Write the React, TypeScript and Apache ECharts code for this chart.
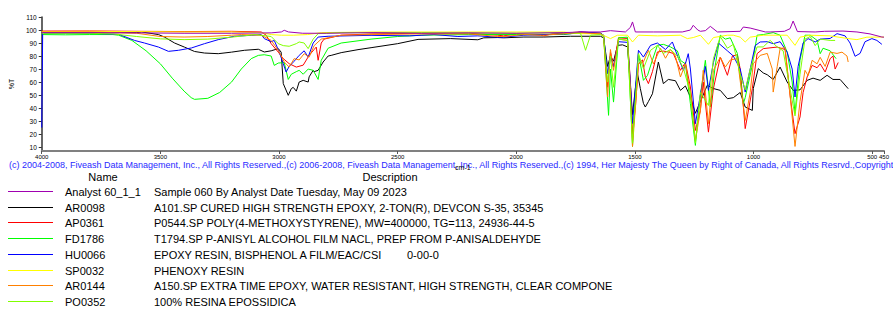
import React, { useEffect, useRef } from "react";
import * as echarts from "echarts";

// ---- axis ticks ----
const wavenumberTicks = [4000, 3500, 3000, 2500, 2000, 1500, 1000, 500, 450];
const transmittanceTicks = [7, 10, 20, 30, 40, 50, 60, 70, 80, 90, 100, 110];

// ---- legend info ----
const seriesNames = ["Analyst 60_1_1", "AR0098", "AP0361", "FD1786", "HU0066", "SP0032", "AR0144", "PO0352"];
const seriesDescriptions = [
  "Sample 060 By Analyst Date Tuesday, May 09 2023",
  "A101.SP CURED HIGH STRENGTH EPOXY, 2-TON(R), DEVCON S-35, 35345",
  "P0544.SP POLY(4-METHOXYSTYRENE), MW=400000, TG=113, 24936-44-5",
  "T1794.SP P-ANISYL ALCOHOL FILM NACL, PREP FROM P-ANISALDEHYDE",
  "EPOXY RESIN, BISPHENOL A FILM/EAC/CSI       0-00-0",
  "PHENOXY RESIN",
  "A150.SP EXTRA TIME EPOXY, WATER RESISTANT, HIGH STRENGTH, CLEAR COMPONE",
  "100% RESINA EPOSSIDICA",
];
const seriesColors = ["#a000b0", "#000000", "#ff0000", "#00ff00", "#0000ff", "#ffff00", "#ff8000", "#80ff00"];

const copyrightText =
  "(c) 2004-2008, Fiveash Data Management, Inc., All Rights Reserved.,(c) 2006-2008, Fiveash Data Management, Inc., All Rights Reserved.,(c) 1994, Her Majesty The Queen by Right of Canada, All Rights Resrvd.,Copyright";

// ---- spectra: [wavenumber cm-1, %T] ----
const analyst60: [number, number][] = [
  [4000, 98], [3800, 98], [3600, 97.8], [3400, 97.5], [3200, 97.5], [3033, 97.8], [2990, 98.5], [2978, 99.8],
  [2960, 98.5], [2900, 97.5], [2800, 97.5], [2600, 98], [2400, 97.5], [2200, 97.8], [2000, 97.5], [1800, 98],
  [1729, 98.5], [1645, 98.5], [1603, 99.5], [1540, 98.5], [1519, 102], [1510, 106.2], [1498, 98.5], [1422, 98.5],
  [1300, 98.5], [1266, 100], [1254, 103.6], [1235, 100], [1224, 99], [1203, 99.5], [1182, 102.8], [1152, 98.5],
  [1056, 99], [1043, 102.3], [1014, 101.5], [950, 98.5], [930, 98.5], [870, 99], [846, 101], [833, 106.9],
  [815, 98.8], [740, 98.5], [700, 99], [623, 99.2], [564, 98.5], [509, 97], [459, 94.6], [450, 94.5],
];

const ar0098: [number, number][] = [
  [4000, 98], [3800, 98.2], [3600, 98], [3579, 98.5], [3508, 96.5], [3483, 94.6], [3440, 90], [3399, 86.9],
  [3356, 83.5], [3314, 82.3], [3256, 81.8], [3200, 83], [3146, 84.4], [3087, 85.2], [3062, 83.1], [3033, 84],
  [3003, 85.7], [2991, 83], [2982, 58.8], [2961, 49.8], [2948, 55], [2940, 55.9], [2927, 53], [2915, 60],
  [2898, 61.3], [2877, 60], [2873, 64], [2856, 69], [2852, 68], [2835, 69], [2814, 75.4], [2793, 80],
  [2780, 80.5], [2738, 82.6], [2667, 84.9], [2612, 86.4], [2500, 89.5], [2414, 92.8], [2276, 93.4], [2162, 92.5],
  [2137, 94], [2078, 94.2], [2053, 94], [1968, 94.6], [1884, 94.6], [1771, 95.2], [1645, 95.2], [1632, 94],
  [1615, 72], [1603, 80], [1590, 76], [1573, 88.2], [1552, 88.6], [1531, 87], [1510, 35], [1498, 55],
  [1489, 66.4], [1477, 55], [1464, 43.6], [1456, 40.8], [1443, 45], [1426, 51], [1401, 75.4], [1380, 58.8],
  [1359, 62], [1329, 61], [1308, 53.6], [1287, 57], [1266, 48.5], [1245, 36], [1224, 45], [1195, 57.5],
  [1169, 55], [1140, 53.6], [1110, 47.2], [1085, 48], [1056, 52], [1035, 40.8], [1005, 38.2], [1001, 55],
  [980, 70.3], [959, 67], [942, 65.6], [917, 62], [888, 71.5], [858, 60], [833, 53.6], [804, 54],
  [774, 61.3], [749, 63], [719, 61.3], [690, 65.2], [665, 62], [635, 62], [601, 54.9],
];

const ap0361: [number, number][] = [
  [4000, 99.2], [3800, 99.3], [3600, 99], [3400, 98.8], [3200, 99], [3075, 98.5], [3054, 96], [3033, 89.5],
  [3003, 83], [2982, 78], [2957, 74.1], [2927, 71.5], [2898, 73], [2873, 80.5], [2852, 85], [2843, 86.9],
  [2835, 76.7], [2822, 90], [2810, 93], [2738, 96], [2612, 97], [2400, 97.5], [2200, 97.5], [2078, 96],
  [2053, 95.5], [2000, 97], [1897, 96], [1884, 95.5], [1850, 97], [1729, 98.5], [1645, 97.5], [1632, 96],
  [1615, 56], [1603, 83], [1590, 71.5], [1569, 94], [1531, 93.5], [1519, 60], [1510, 20.3], [1498, 40],
  [1485, 74], [1468, 77], [1456, 63.9], [1443, 58.8], [1426, 68], [1405, 83.1], [1380, 83.8], [1359, 83.1],
  [1338, 82], [1308, 69], [1287, 75], [1266, 56.2], [1245, 22.8], [1224, 38], [1212, 60], [1190, 21.5],
  [1169, 55], [1140, 79.2], [1110, 65.2], [1089, 80], [1068, 81], [1056, 70], [1035, 24.2], [1005, 55],
  [985, 81.8], [959, 85.7], [900, 86.9], [867, 85], [846, 50], [825, 20.3], [804, 33.1], [791, 52],
  [774, 63.9], [753, 72.8], [732, 71], [719, 74], [698, 67.7], [677, 78], [665, 80], [656, 70], [643, 75],
];

const fd1786: [number, number][] = [
  [4000, 96.5], [3900, 96.3], [3800, 96.5], [3700, 96.5], [3676, 96], [3620, 92], [3560, 84], [3500, 74],
  [3450, 63], [3400, 53], [3370, 48], [3356, 46.7], [3300, 47.5], [3250, 52], [3200, 60], [3159, 70],
  [3117, 78], [3087, 80.5], [3062, 81], [3033, 80], [3020, 72.8], [3003, 74.6], [2978, 75], [2961, 62],
  [2948, 66], [2927, 68], [2915, 69], [2898, 66], [2877, 70], [2856, 69], [2835, 62], [2822, 76.7],
  [2793, 86], [2738, 90], [2612, 93], [2500, 95], [2400, 96], [2200, 96.5], [2000, 96.5], [1800, 96.5],
  [1729, 98], [1645, 97.5], [1632, 96], [1611, 34.4], [1603, 70], [1590, 44.6], [1569, 94], [1531, 94.5],
  [1510, 10.5], [1498, 50], [1485, 81.8], [1464, 61.3], [1447, 65], [1426, 77], [1405, 88.2], [1380, 89],
  [1350, 87], [1321, 84], [1308, 76.7], [1287, 74], [1266, 43.4], [1245, 11.3], [1224, 50], [1203, 76.7],
  [1182, 40.8], [1161, 73], [1140, 96], [1119, 93], [1098, 94], [1068, 82], [1043, 43.4], [1035, 48],
  [1005, 73], [985, 96], [959, 96.5], [917, 98], [888, 96], [858, 83], [837, 60], [825, 35.9],
  [804, 76.7], [783, 96], [761, 96], [732, 92], [719, 81.8], [707, 86], [677, 84], [652, 78],
];

const hu0066: [number, number][] = [
  [4000, 25], [3996, 99], [3990, 97.5], [3800, 97.5], [3676, 96.7], [3609, 92], [3567, 90], [3508, 86.9],
  [3466, 83.6], [3424, 84.4], [3369, 86.2], [3314, 89.5], [3256, 92.6], [3188, 95.2], [3117, 95.9], [3075, 96.5],
  [3062, 93.4], [3033, 91], [3020, 92], [2999, 83.1], [2982, 74.1], [2970, 67.7], [2957, 72], [2936, 76],
  [2915, 80.5], [2894, 84], [2877, 79.2], [2856, 90], [2835, 94.6], [2793, 95.2], [2612, 95.9], [2450, 95.5],
  [2347, 96.5], [2246, 95], [2162, 95.5], [2078, 94.5], [2053, 94.5], [1968, 96], [1884, 96.5], [1771, 97.2],
  [1729, 98.5], [1645, 97.5], [1632, 96], [1615, 66.4], [1603, 80], [1590, 71.8], [1569, 91], [1531, 90.5],
  [1519, 60], [1510, 28.2], [1498, 55], [1485, 84.4], [1464, 79.2], [1434, 88.2], [1405, 90], [1371, 85],
  [1342, 90.8], [1316, 78], [1295, 69], [1275, 81.8], [1266, 70], [1245, 28], [1224, 50], [1203, 72],
  [1190, 53.6], [1169, 75], [1148, 90], [1110, 84], [1085, 80], [1056, 70], [1035, 52.3], [1014, 70],
  [993, 88], [972, 90.8], [942, 91], [917, 89.5], [888, 91], [858, 83], [837, 70], [825, 48.5],
  [812, 72], [791, 90], [770, 93.4], [740, 90.8], [719, 93], [677, 93.5], [648, 97.2], [614, 95.5],
  [593, 90], [572, 79.8], [551, 82], [530, 91], [501, 93.4], [480, 92], [459, 89],
];

const sp0032: [number, number][] = [
  [4000, 98.8], [3800, 99], [3600, 98.8], [3400, 98.5], [3200, 98.5], [3075, 98], [3033, 96.5], [2990, 96],
  [2940, 96], [2880, 96.5], [2822, 98], [2600, 98.5], [2200, 98.5], [1800, 98.5], [1729, 97.2], [1645, 97],
  [1603, 93.4], [1573, 96], [1531, 96], [1510, 90.8], [1485, 96], [1405, 95.5], [1308, 96], [1279, 93.4],
  [1254, 94.2], [1224, 96], [1190, 89], [1169, 94.2], [1110, 96], [1085, 96], [1056, 94.5], [1035, 90.8],
  [1014, 94.5], [959, 96], [858, 96], [825, 88.2], [804, 94.5], [761, 96], [677, 95.5], [601, 93.4],
  [564, 92.6], [522, 94.5], [450, 94.6],
];

const ar0144: [number, number][] = [
  [4000, 98.5], [3800, 98.5], [3600, 97.5], [3500, 95], [3400, 94.6], [3300, 95], [3200, 96], [3159, 96.5],
  [3075, 96], [3033, 92], [3003, 84.4], [2978, 75.4], [2957, 71.5], [2936, 78], [2915, 77], [2894, 81.8],
  [2873, 79.2], [2852, 88], [2822, 93], [2738, 96], [2612, 96.5], [2400, 97], [2200, 97], [2078, 95],
  [2053, 95], [1968, 96.5], [1884, 96], [1771, 97.5], [1729, 98], [1645, 97], [1632, 95], [1615, 48.5],
  [1603, 85], [1590, 69], [1569, 93], [1531, 92], [1519, 55], [1510, 10.5], [1498, 40], [1485, 74.1],
  [1464, 75.5], [1443, 84.4], [1422, 74], [1392, 86], [1371, 78.3], [1350, 85], [1329, 80], [1308, 63.9],
  [1287, 74], [1266, 51], [1245, 15.2], [1224, 38], [1212, 69], [1190, 28], [1169, 69], [1140, 79.2],
  [1119, 71.5], [1098, 77], [1068, 78], [1035, 30.5], [1014, 52], [1001, 74], [972, 80.5], [942, 82],
  [921, 70], [917, 52.3], [900, 72], [888, 85.7], [867, 86.5], [846, 50], [825, 10.5], [804, 45],
  [783, 69], [770, 65], [753, 76.7], [732, 74], [719, 79], [698, 72], [677, 83], [648, 82],
  [627, 83], [606, 80], [601, 75.4],
];

const po0352: [number, number][] = [
  [4000, 97.5], [3800, 97.5], [3700, 97], [3600, 95], [3500, 93.2], [3400, 92.6], [3300, 93], [3200, 94.5],
  [3100, 96.5], [3033, 95], [3003, 89.5], [2982, 88], [2957, 87.5], [2927, 89.5], [2915, 90.8], [2894, 90],
  [2877, 85.7], [2856, 93], [2835, 97.2], [2738, 98], [2400, 98], [2000, 97.5], [1771, 98], [1729, 97.5],
  [1708, 84.4], [1687, 96], [1645, 96.5], [1632, 95], [1615, 60], [1603, 80], [1590, 56], [1569, 93],
  [1531, 92], [1510, 13], [1485, 81.8], [1464, 70.3], [1434, 84.4], [1405, 88.2], [1380, 82], [1350, 85],
  [1321, 80], [1295, 70.3], [1266, 51.5], [1245, 13], [1224, 52], [1190, 42], [1169, 78], [1140, 95],
  [1110, 86], [1085, 89], [1056, 66], [1035, 54], [1014, 70], [985, 87], [959, 87], [930, 92],
  [900, 87], [875, 84], [846, 55], [825, 34], [804, 66], [783, 93], [761, 95], [740, 88],
  [719, 93], [677, 92], [656, 92],
];

const spectra = [analyst60, ar0098, ap0361, fd1786, hu0066, sp0032, ar0144, po0352];
const drawOrder = [1, 2, 3, 4, 5, 6, 7, 0];

const FONT = '"Liberation Sans", Arial, sans-serif';

export default function App() {
  const ref = useRef<HTMLDivElement>(null);
  useEffect(() => {
    if (!ref.current) return;
    const chart = echarts.init(ref.current, undefined, { renderer: "svg" });

    const graphics: any[] = [];
    graphics.push({
      type: "text",
      x: 9,
      y: 165,
      silent: true,
      style: { text: copyrightText, fill: "#2a2aff", fontSize: 9, fontFamily: FONT, verticalAlign: "middle", align: "left" },
    });
    graphics.push({
      type: "text",
      x: 103,
      y: 177,
      style: { text: "Name", fill: "#000", fontSize: 11, fontFamily: FONT, verticalAlign: "middle", align: "center" },
    });
    graphics.push({
      type: "text",
      x: 390,
      y: 177,
      style: { text: "Description", fill: "#000", fontSize: 11, fontFamily: FONT, verticalAlign: "middle", align: "center" },
    });
    seriesNames.forEach((name, i) => {
      const ry = Math.round(191 + i * 15.7) + 0.5;
      graphics.push({
        type: "line",
        shape: { x1: 8, y1: ry, x2: 53, y2: ry },
        style: { stroke: seriesColors[i], lineWidth: 1 },
      });
      graphics.push({
        type: "text",
        x: 65,
        y: ry,
        style: { text: name, fill: "#000", fontSize: 11, fontFamily: FONT, verticalAlign: "middle", align: "left" },
      });
      const parts = seriesDescriptions[i].split(/\s{2,}/);
      graphics.push({
        type: "text",
        x: 154,
        y: ry,
        style: { text: parts[0], fill: "#000", fontSize: 11, fontFamily: FONT, verticalAlign: "middle", align: "left" },
      });
      if (parts[1]) {
        graphics.push({
          type: "text",
          x: 407,
          y: ry,
          style: { text: parts[1], fill: "#000", fontSize: 11, fontFamily: FONT, verticalAlign: "middle", align: "left" },
        });
      }
    });

    chart.setOption({
      animation: false,
      backgroundColor: "#ffffff",
      grid: { left: 40, top: 17, width: 844, height: 134 },
      xAxis: {
        type: "value",
        min: 450,
        max: 4000,
        inverse: true,
        name: "cm-1",
        nameLocation: "middle",
        nameGap: 13,
        nameTextStyle: { fontSize: 7, color: "#000", fontFamily: FONT },
        axisLine: { show: true, onZero: false, lineStyle: { color: "#808080", width: 2 } },
        axisTick: { show: true, length: 3, lineStyle: { color: "#555" }, customValues: wavenumberTicks },
        axisLabel: {
          fontSize: 6,
          color: "#000",
          margin: 3,
          fontFamily: FONT,
          customValues: wavenumberTicks,
          formatter: (v: number) => String(v),
        },
        splitLine: { show: false },
      },
      yAxis: {
        type: "value",
        min: 7,
        max: 110,
        name: "%T",
        nameLocation: "middle",
        nameGap: 26,
        nameRotate: 90,
        nameTextStyle: { fontSize: 7, color: "#000", fontFamily: FONT },
        axisLine: { show: true, onZero: false, lineStyle: { color: "#333", width: 1.5 } },
        axisTick: { show: true, length: 3, lineStyle: { color: "#333" }, customValues: transmittanceTicks },
        axisLabel: {
          fontSize: 6.5,
          color: "#000",
          margin: 5,
          fontFamily: FONT,
          customValues: transmittanceTicks,
          formatter: (v: number) => String(v),
        },
        splitLine: { show: false },
      },
      series: drawOrder.map((i) => ({
        name: seriesNames[i],
        type: "line",
        data: spectra[i],
        showSymbol: false,
        symbol: "none",
        lineStyle: { color: seriesColors[i], width: 1 },
        itemStyle: { color: seriesColors[i] },
        silent: true,
      })),
      graphic: graphics,
    });
    return () => chart.dispose();
  }, []);
  return <div ref={ref} style={{ position: "fixed", left: 0, top: 0, width: 893, height: 309, background: "#fff" }} />;
}
